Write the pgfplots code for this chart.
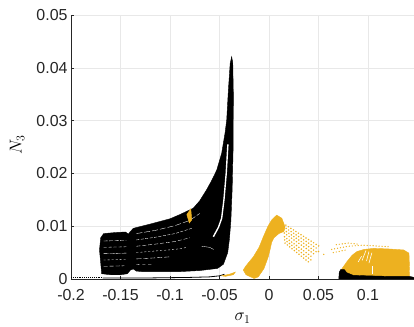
\documentclass[border=0pt]{standalone}
\usepackage{fontspec}
\setmainfont{Liberation Sans}
\usepackage{pgfplots}
\pgfplotsset{compat=1.18}
\definecolor{mor}{RGB}{237,177,32}
\definecolor{axc}{RGB}{38,38,38}
\begin{document}
\begin{tikzpicture}
\begin{axis}[
  width=343bp, height=264bp, scale only axis,
  xmin=-0.2, xmax=0.1465, ymin=0, ymax=0.05,
  axis lines=left, axis line style={-, axc, line width=0.5pt},
  xtick={-0.2,-0.15,-0.1,-0.05,0,0.05,0.1},
  ytick={0,0.01,0.02,0.03,0.04,0.05},
  scaled x ticks=false, scaled y ticks=false,
  /pgf/number format/assume math mode=true,
  /pgf/number format/fixed, /pgf/number format/precision=2,
  tick label style={font=\fontsize{16}{19}\selectfont, text=axc},
  xticklabel style={yshift=-7bp},
  grid=major, grid style={gray!18, line width=0.5pt},
  tick align=inside, major tick length=3bp, tick style={axc},
  xlabel={$\sigma_1$}, ylabel={$N_3$},
  label style={font=\fontsize{17}{20}\selectfont},
  xlabel style={at={(axis description cs:0.5,-0.148)}, anchor=center},
  ylabel style={at={(axis description cs:-0.157,0.508)}, anchor=center, rotate=0},
  clip=true,
]
\coordinate (sw) at (rel axis cs:0,0);
\coordinate (ne) at (rel axis cs:1,1);
% baseline thin curves
\addplot[black, densely dotted, line width=0.9pt] coordinates {(-0.2,0.0002)(-0.168,0.0002)};
\addplot[black, line width=0.8pt] coordinates {(-0.168,0.0002)(-0.12,0.0002)(-0.08,0.0003)(-0.06,0.0004)(-0.05,0.0006)(-0.045,0.0009)};
\addplot[mor, fill=mor] coordinates {(-0.048,0.0006)(-0.040,0.0009)(-0.034,0.0013)(-0.036,0.0008)(-0.044,0.0005)} -- cycle;
% black main body
\addplot[black, fill=black, line width=0.4pt] coordinates {
(-0.169,0.0010)(-0.1712,0.0055)(-0.1700,0.0078)(-0.1670,0.0086)(-0.1550,0.0088)
(-0.1450,0.0089)(-0.1420,0.0085)(-0.1400,0.0090)(-0.1370,0.0096)(-0.1200,0.0104)
(-0.1000,0.0114)(-0.0900,0.0122)(-0.0765,0.0134)(-0.0700,0.0148)(-0.0630,0.0169)
(-0.0580,0.0186)(-0.0528,0.0206)(-0.0478,0.0238)(-0.0444,0.0276)(-0.0427,0.0301)
(-0.0410,0.0358)(-0.0392,0.0408)(-0.0377,0.0421)(-0.0366,0.0410)(-0.0360,0.0350)
(-0.0362,0.0250)(-0.0372,0.0170)(-0.0385,0.0110)(-0.0400,0.0075)(-0.0417,0.0050)
(-0.0460,0.0028)(-0.0520,0.0020)(-0.0700,0.0016)(-0.0900,0.0014)(-0.1100,0.0014)
(-0.1280,0.0014)(-0.1340,0.0015)(-0.1370,0.0019)(-0.1400,0.0017)(-0.1430,0.0010)
(-0.1500,0.0008)(-0.1600,0.0008)} -- cycle;
% white gaps and striations
\addplot[white, line width=1.4pt] coordinates {(-0.0562,0.0080)(-0.0510,0.0098)(-0.0478,0.0115)(-0.0455,0.0150)(-0.0432,0.0200)(-0.0415,0.0255)};
\addplot[white, line width=0.35pt, dash pattern=on 4pt off 1.5pt] coordinates {(-0.167,0.0072)(-0.144,0.0073)};
\addplot[white, line width=0.35pt, dash pattern=on 3pt off 2pt] coordinates {(-0.167,0.0060)(-0.144,0.0061)};
\addplot[white, line width=0.35pt, dash pattern=on 5pt off 1pt] coordinates {(-0.167,0.0048)(-0.144,0.0049)};
\addplot[white, line width=0.35pt, dash pattern=on 2pt off 2pt] coordinates {(-0.167,0.0036)(-0.144,0.0037)};
\addplot[white, line width=0.35pt, dash pattern=on 4pt off 2pt] coordinates {(-0.167,0.0024)(-0.146,0.0025)};
\addplot[white, line width=0.35pt, dash pattern=on 6pt off 2pt] coordinates {(-0.134,0.0086)(-0.115,0.0092)(-0.095,0.0101)(-0.080,0.0111)(-0.070,0.0124)};
\addplot[white, line width=0.35pt, dash pattern=on 3pt off 1.5pt] coordinates {(-0.134,0.0074)(-0.115,0.0079)(-0.095,0.0086)(-0.078,0.0096)};
\addplot[white, line width=0.35pt, dash pattern=on 4pt off 2pt] coordinates {(-0.134,0.0062)(-0.115,0.0066)(-0.095,0.0071)(-0.080,0.0078)};
\addplot[white, line width=0.35pt, dash pattern=on 2pt off 2pt] coordinates {(-0.134,0.0050)(-0.115,0.0053)(-0.095,0.0056)(-0.082,0.0060)};
\addplot[white, line width=0.35pt, dash pattern=on 5pt off 2pt] coordinates {(-0.134,0.0038)(-0.115,0.0040)(-0.100,0.0042)};
\addplot[white, line width=0.35pt, dash pattern=on 3pt off 3pt] coordinates {(-0.134,0.0027)(-0.118,0.0028)};
\addplot[white, line width=0.3pt] coordinates {(-0.068,0.0062)(-0.060,0.0060)(-0.056,0.0056)};
% small orange patch inside black
\addplot[mor, fill=mor] coordinates {(-0.0830,0.0122)(-0.0790,0.0133)(-0.0780,0.0112)(-0.0805,0.0106)} -- cycle;
% orange wedge
\addplot[mor, fill=mor] coordinates {
(-0.0260,0.0017)(-0.0232,0.0025)(-0.0158,0.0042)(-0.0100,0.0060)(-0.0057,0.0080)
(-0.0010,0.0100)(0.0028,0.0112)(0.0078,0.0121)(0.0130,0.0115)(0.0162,0.0099)
(0.0150,0.0090)(0.0100,0.0086)(0.0050,0.0078)(0.0028,0.0070)(0.0010,0.0055)
(-0.0007,0.0042)(-0.0050,0.0020)(-0.0108,0.0004)(-0.0150,0.0001)(-0.0232,0.0008)} -- cycle;
% dotted orange band
\pgfplotsset{dotrow/.style={mor, line width=1.7pt, line cap=round, dash pattern=on 0pt off 3pt}}
\addplot[dotrow] coordinates {(0.0145,0.0105)(0.0515,0.0061)};
\addplot[dotrow] coordinates {(0.0148,0.0099)(0.0498,0.0056)};
\addplot[dotrow] coordinates {(0.0151,0.0093)(0.0481,0.0051)};
\addplot[dotrow] coordinates {(0.0154,0.0087)(0.0465,0.0046)};
\addplot[dotrow] coordinates {(0.0156,0.0080)(0.0448,0.0040)};
\addplot[dotrow] coordinates {(0.0159,0.0074)(0.0431,0.0035)};
\addplot[dotrow] coordinates {(0.0162,0.0068)(0.0414,0.0030)};
\addplot[dotrow, dash pattern=on 0pt off 6pt] coordinates {(0.050,0.0052)(0.058,0.0044)};
% right orange block
\addplot[dotrow, line width=1.4pt] coordinates {(0.0633,0.0056)(0.0800,0.0062)(0.0950,0.0064)(0.1220,0.0061)};
\addplot[dotrow, line width=1.4pt] coordinates {(0.0680,0.0065)(0.0800,0.0068)(0.0900,0.0066)};
\addplot[dotrow, line width=1.4pt] coordinates {(0.0650,0.0050)(0.0780,0.0055)};
\addplot[mor, fill=mor] coordinates {
(0.0720,0.0002)(0.0728,0.0017)(0.0788,0.0033)(0.0840,0.0045)(0.0889,0.0052)
(0.0960,0.0056)(0.1057,0.0058)(0.1200,0.0057)(0.1360,0.0055)(0.1414,0.0049)
(0.1420,0.0020)(0.1418,0.0006)(0.1400,0.0002)} -- cycle;
\addplot[white, line width=0.6pt] coordinates {(0.0900,0.0032)(0.0935,0.0043)};
\addplot[white, line width=0.6pt] coordinates {(0.0940,0.0035)(0.0980,0.0054)};
\addplot[white, line width=0.6pt] coordinates {(0.0985,0.0034)(0.1010,0.0052)};
\addplot[white, line width=0.6pt] coordinates {(0.1010,0.0030)(0.1040,0.0050)};
\addplot[white, line width=0.5pt] coordinates {(0.1045,0.0010)(0.1045,0.0024)};
% right black strip
\addplot[black, fill=black] coordinates {
(0.0705,0.0000)(0.0710,0.0013)(0.0725,0.0018)(0.0760,0.0018)(0.0785,0.0012)
(0.0850,0.0007)(0.1000,0.0006)(0.1200,0.0005)(0.1420,0.0005)(0.1465,0.0003)(0.1465,0.0000)} -- cycle;
\end{axis}
\pgfresetboundingbox
\path[use as bounding box] ([xshift=-71bp,yshift=-48bp]sw) rectangle ([yshift=15bp]ne);
\end{tikzpicture}
\end{document}
